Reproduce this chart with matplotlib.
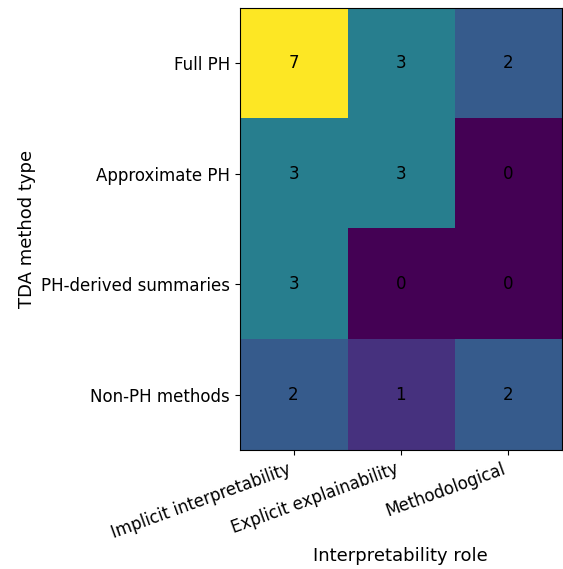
import matplotlib
matplotlib.use("Agg")
import matplotlib.pyplot as plt
import numpy as np

method_types = ["Full PH", "Approximate PH", "PH-derived summaries", "Non-PH methods"]
roles = ["Implicit interpretability", "Explicit explainability", "Methodological"]
counts = np.array([
    [7, 3, 2],
    [3, 3, 0],
    [3, 0, 0],
    [2, 1, 2],
])

fig = plt.figure(figsize=(5.63, 5.69), dpi=100)
ax = fig.add_axes([0.426, 0.209, 0.572, 0.777])
ax.imshow(counts, cmap="viridis", aspect="auto")

for i in range(counts.shape[0]):
    for j in range(counts.shape[1]):
        ax.text(j, i, str(counts[i, j]), ha="center", va="center",
                color="black", fontsize=12)

ax.set_xticks(range(len(roles)))
ax.set_xticklabels(roles, rotation=20, ha="right", fontsize=12)
ax.set_yticks(range(len(method_types)))
ax.set_yticklabels(method_types, fontsize=12)
ax.set_xlabel("Interpretability role", fontsize=13)
ax.set_ylabel("TDA method type", fontsize=13)

fig.savefig("out.png", dpi=100)
